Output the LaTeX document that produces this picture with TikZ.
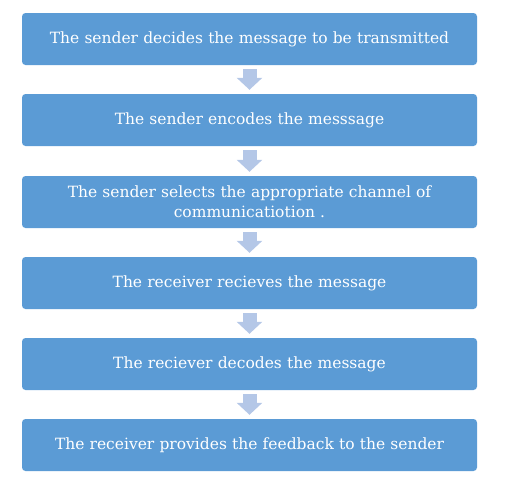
\documentclass[tikz,border=0pt]{standalone}
\usepackage{fontspec}
\setmainfont{DejaVu Serif}
\usetikzlibrary{arrows.meta}
\definecolor{boxblue}{HTML}{5B9BD5}
\definecolor{arrowblue}{HTML}{B4C7E7}
\tikzset{
  stepbox/.style={fill=boxblue, draw=none, rounded corners=3.5pt, minimum width=455pt, minimum height=52pt, text width=445pt, align=center, text=white, font=\fontsize{15.5}{20}\selectfont, inner sep=0pt},
  blockarrow/.style={draw=arrowblue, line width=14pt, -{Triangle[width=25pt,length=12pt]}}
}
\begin{document}
\begin{tikzpicture}[x=1pt,y=1pt]
\useasboundingbox (0,0) rectangle (515,-491);
\node[stepbox] (b1) at (249.5,-39) {The sender decides the message to be transmitted};
\node[stepbox] (b2) at (249.5,-120) {The sender encodes the messsage};
\node[stepbox] (b3) at (249.5,-202) {The sender selects the appropriate channel of\\communicatiotion .};
\node[stepbox] (b4) at (249.5,-283) {The receiver recieves the message};
\node[stepbox] (b5) at (249.5,-364) {The reciever decodes the message};
\node[stepbox] (b6) at (249.5,-445) {The receiver provides the feedback to the sender};
\foreach \a/\b in {b1/b2,b2/b3,b3/b4,b4/b5,b5/b6}{
  \draw[blockarrow] ([yshift=-4pt]\a.south) -- ([yshift=4pt]\b.north);
}
\end{tikzpicture}
\end{document}
